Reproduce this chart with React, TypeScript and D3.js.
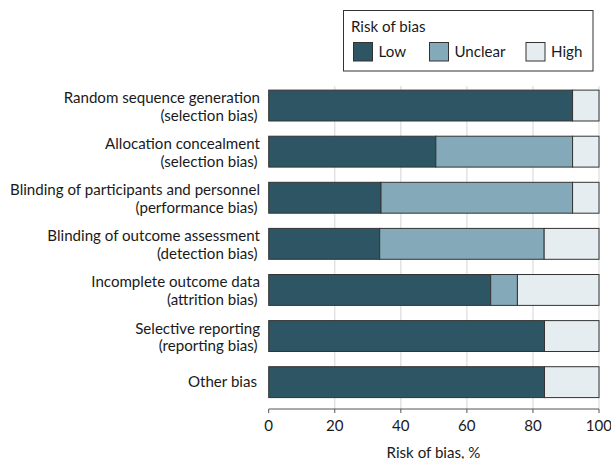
import React from "react";
import * as d3 from "d3";

const categories: string[][] = [
  ["Random sequence generation", "(selection bias)"],
  ["Allocation concealment", "(selection bias)"],
  ["Blinding of participants and personnel", "(performance bias)"],
  ["Blinding of outcome assessment", "(detection bias)"],
  ["Incomplete outcome data", "(attrition bias)"],
  ["Selective reporting", "(reporting bias)"],
  ["Other bias"],
];
const lowValues = [92, 50.6, 34, 33.6, 67.2, 83.5, 83.5];
const unclearValues = [0, 41.4, 58, 49.8, 8.1, 0, 0];
const highValues = [8, 8, 8, 16.6, 24.7, 16.5, 16.5];
const seriesNames = ["Low", "Unclear", "High"];
const seriesColors = ["#2e5563", "#84a9b8", "#e6edf1"];
const xTicks = [0, 20, 40, 60, 80, 100];

const W = 611;
const H = 459;
const FONT = "Lato, 'Noto Sans', sans-serif";
const FS = 15.1;

export default function App() {
  const x = d3.scaleLinear().domain([0, 100]).range([268.7, 599]);
  const y = d3
    .scaleBand<number>()
    .domain(categories.map((_, i) => i))
    .range([82.5, 405.2])
    .paddingInner(0.33)
    .paddingOuter(0.165);
  const axisY = 409;

  const rows = categories.map((c, i) => ({
    i,
    vals: [lowValues[i], unclearValues[i], highValues[i]],
  }));
  const stack = d3
    .stack<{ i: number; vals: number[] }, number>()
    .keys([0, 1, 2])
    .value((d, k) => d.vals[k]);
  const stacked = stack(rows);

  const legendX = 343.5;
  const legendY = 10.5;
  const swX = [353.5, 429.5, 526];

  return (
    <svg
      width={W}
      height={H}
      style={{ position: "absolute", left: 0, top: 0, fontFamily: FONT }}
    >
      <rect width={W} height={H} fill="#fff" />
      {xTicks.slice(1).map((t) => (
        <line
          key={t}
          x1={x(t)}
          x2={x(t)}
          y1={86}
          y2={axisY}
          stroke="#dcdcdc"
          strokeWidth={1.2}
        />
      ))}
      {stacked.map((s, k) =>
        s.map((d, i) =>
          d[1] - d[0] > 0 ? (
            <rect
              key={`${k}-${i}`}
              x={x(d[0])}
              y={y(i)!}
              width={x(d[1]) - x(d[0])}
              height={y.bandwidth()}
              fill={seriesColors[k]}
              stroke="#333"
              strokeWidth={1}
            />
          ) : null
        )
      )}
      <line x1={x(0)} x2={x(100)} y1={axisY} y2={axisY} stroke="#555" strokeWidth={1} />
      {xTicks.map((t) => (
        <g key={t}>
          <line x1={x(t)} x2={x(t)} y1={axisY} y2={axisY + 4} stroke="#555" />
          <text
            x={x(t)}
            y={axisY + 22}
            textAnchor="middle"
            fontSize={FS}
            fill="#1a1a1a"
          >
            {t}
          </text>
        </g>
      ))}
      <text x={433.5} y={457.5} textAnchor="middle" fontSize={FS} fill="#1a1a1a">
        Risk of bias, %
      </text>
      {categories.map((lines, i) => {
        const cy = y(i)! + y.bandwidth() / 2;
        if (lines.length === 1) {
          return (
            <text key={i} x={257} y={cy + 5} textAnchor="end" fontSize={FS} fill="#1a1a1a">
              {lines[0]}
            </text>
          );
        }
        return (
          <g key={i}>
            <text x={260} y={cy - 2.5} textAnchor="end" fontSize={FS} fill="#1a1a1a">
              {lines[0]}
            </text>
            <text x={257.5} y={cy + 15} textAnchor="end" fontSize={FS} fill="#1a1a1a">
              {lines[1]}
            </text>
          </g>
        );
      })}
      <rect
        x={legendX}
        y={legendY}
        width={249.5}
        height={60.5}
        fill="#fff"
        stroke="#333"
        strokeWidth={1}
      />
      <text x={351} y={32} fontSize={FS} fill="#1a1a1a">
        Risk of bias
      </text>
      {seriesNames.map((n, k) => (
        <g key={n}>
          <rect
            x={swX[k]}
            y={42.5}
            width={19}
            height={18.5}
            fill={seriesColors[k]}
            stroke="#333"
            strokeWidth={1}
          />
          <text x={swX[k] + 25} y={57} fontSize={FS} fill="#1a1a1a">
            {n}
          </text>
        </g>
      ))}
    </svg>
  );
}
